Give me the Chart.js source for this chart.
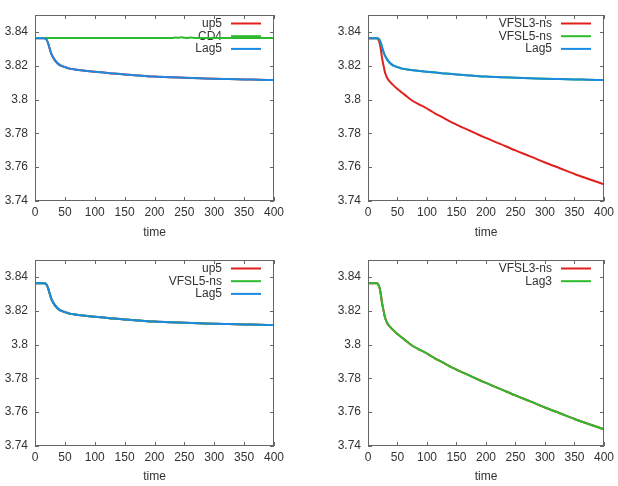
<!DOCTYPE html>
<html>
<head>
<meta charset="utf-8">
<script src="https://cdn.jsdelivr.net/npm/chart.js@4"></script>
<style>
  html, body { margin: 0; padding: 0; background: #fff; }
  .panel { position: absolute; }
</style>
</head>
<body>
<div class="panel" style="left:0;top:0"><canvas id="c1" width="309" height="243"></canvas></div>
<div class="panel" style="left:309px;top:0"><canvas id="c2" width="309" height="243"></canvas></div>
<div class="panel" style="left:0;top:245px"><canvas id="c3" width="309" height="241"></canvas></div>
<div class="panel" style="left:309px;top:245px"><canvas id="c4" width="309" height="241"></canvas></div>
<script>
// times (x) for the slowly relaxing curves (Lag5 / up5 / VFSL5-ns)
const lagTime = [0, 15, 18, 20, 22, 24, 26, 28, 31, 35, 40, 45, 50, 58, 67, 80, 95, 110, 125,
                 150, 175, 200, 225, 250, 275, 300, 325, 350, 375, 400];
const lag5 = [3.8363, 3.8363, 3.836, 3.835, 3.8333, 3.8308, 3.8285, 3.8265, 3.8245, 3.8225, 3.8208,
              3.8198, 3.8192, 3.8183, 3.8178, 3.8172, 3.8166, 3.8161, 3.8156,
              3.8148, 3.8142, 3.8136, 3.8132, 3.8129, 3.8126, 3.8123, 3.8121, 3.8119, 3.8117, 3.8115];

// CD4 stays flat, small wiggle near t = 240
const cdTime = [0, 230, 235, 240, 245, 250, 255, 260, 265, 270, 400];
const cd4 = [3.8364, 3.8364, 3.8367, 3.8365, 3.8368, 3.8365, 3.8364, 3.8367, 3.8365, 3.8364, 3.8364];

// VFSL3-ns / Lag3 (fast decay)
const vfslTime = [0, 12, 15, 17, 20, 22, 24, 27, 29, 33, 37, 42, 48, 55, 62, 70, 78, 86, 95, 105, 114,
                  125, 150, 175, 200, 225, 250, 275, 300, 325, 350, 375, 400];
const vfsl3 = [3.8363, 3.8363, 3.8362, 3.8358, 3.833, 3.829, 3.8242, 3.819, 3.8158, 3.8125, 3.8106,
               3.8088, 3.8068, 3.8048, 3.8029, 3.8006, 3.7987, 3.7972, 3.7956, 3.7936, 3.7917,
               3.7897, 3.7852, 3.7812, 3.7773, 3.7736, 3.7699, 3.7664, 3.7628, 3.7594, 3.756, 3.7529, 3.7498];

const xTicks = { min: 0, max: 400, step: 50 };
const yTicks = { min: 3.74, max: 3.85, step: 0.02 };

const RED = '#e0201c', GREEN = '#2dba2d', BLUE = '#1c8ae0';
const TEXT = '#333', FRAME = '#666';

Chart.defaults.font.family = "'Liberation Sans', Arial, sans-serif";
Chart.defaults.font.size = 12;
Chart.defaults.color = TEXT;

function pts(xs, ys) {
  return xs.map((x, i) => ({ x: x, y: ys[i] }));
}

// gnuplot-like box with inward ticks on all sides + key in top right
const framePlugin = {
  id: 'frame',
  beforeDatasetsDraw(chart) {
    const ctx = chart.ctx, a = chart.chartArea;
    ctx.save();
    ctx.font = "12px 'Liberation Sans', Arial, sans-serif";
    ctx.textAlign = 'right';
    ctx.textBaseline = 'middle';
    ctx.lineWidth = 2;
    chart.data.datasets.forEach((ds, i) => {
      const y = a.top + 8.5 + i * 12.7;
      ctx.fillStyle = TEXT;
      ctx.fillText(ds.label, a.right - 52, y);
      ctx.strokeStyle = ds.borderColor;
      ctx.beginPath();
      ctx.moveTo(a.right - 43, y);
      ctx.lineTo(a.right - 13, y);
      ctx.stroke();
    });
    ctx.restore();
  },
  afterDatasetsDraw(chart) {
    const ctx = chart.ctx, a = chart.chartArea;
    const xs = chart.scales.x, ys = chart.scales.y;
    ctx.save();
    ctx.strokeStyle = FRAME;
    ctx.lineWidth = 1;
    ctx.strokeRect(a.left + 0.5, a.top + 0.5, a.right - a.left - 1, a.bottom - a.top - 1);
    ctx.beginPath();
    xs.ticks.forEach(t => {
      const px = Math.round(xs.getPixelForValue(t.value)) + 0.5;
      ctx.moveTo(px, a.bottom); ctx.lineTo(px, a.bottom - 4);
      ctx.moveTo(px, a.top); ctx.lineTo(px, a.top + 4);
    });
    ys.ticks.forEach(t => {
      const py = Math.round(ys.getPixelForValue(t.value)) + 0.5;
      ctx.moveTo(a.left, py); ctx.lineTo(a.left + 4, py);
      ctx.moveTo(a.right, py); ctx.lineTo(a.right - 4, py);
    });
    ctx.stroke();
    ctx.restore();
  }
};

function makePanel(id, series, padLeft, padRight, xHeight, titlePad) {
  const datasets = series.map((s, i) => ({
    label: s.label,
    data: pts(s.x, s.y),
    borderColor: s.color,
    backgroundColor: s.color,
    order: series.length - i
  }));
  new Chart(document.getElementById(id), {
    type: 'line',
    data: { datasets: datasets },
    plugins: [framePlugin],
    options: {
      responsive: false,
      animation: false,
      layout: { padding: { left: padLeft, right: padRight, top: 15, bottom: 0 } },
      plugins: { legend: { display: false }, tooltip: { enabled: false } },
      elements: {
        point: { radius: 0 },
        line: { borderWidth: 2, cubicInterpolationMode: 'monotone' }
      },
      scales: {
        x: {
          type: 'linear',
          min: xTicks.min, max: xTicks.max,
          ticks: { stepSize: xTicks.step, padding: 4, maxRotation: 0 },
          grid: { display: false, drawTicks: false },
          border: { display: false },
          title: { display: true, text: 'time', padding: { top: 0, bottom: titlePad } },
          afterFit: s => { s.height = xHeight; }
        },
        y: {
          min: yTicks.min, max: yTicks.max,
          ticks: {
            stepSize: yTicks.step, includeBounds: false, padding: 7,
            callback: v => String(+v.toFixed(2))
          },
          grid: { display: false, drawTicks: false },
          border: { display: false },
          afterFit: s => { s.width = 35; }
        }
      }
    }
  });
}

makePanel('c1', [
  { label: 'up5', x: lagTime, y: lag5, color: RED },
  { label: 'CD4', x: cdTime, y: cd4, color: GREEN },
  { label: 'Lag5', x: lagTime, y: lag5, color: BLUE }
], 0, 35, 42, 3);

makePanel('c2', [
  { label: 'VFSL3-ns', x: vfslTime, y: vfsl3, color: RED },
  { label: 'VFSL5-ns', x: lagTime, y: lag5, color: GREEN },
  { label: 'Lag5', x: lagTime, y: lag5, color: BLUE }
], 24, 10, 42, 3);

makePanel('c3', [
  { label: 'up5', x: lagTime, y: lag5, color: RED },
  { label: 'VFSL5-ns', x: lagTime, y: lag5, color: GREEN },
  { label: 'Lag5', x: lagTime, y: lag5, color: BLUE }
], 0, 35, 40, 2);

makePanel('c4', [
  { label: 'VFSL3-ns', x: vfslTime, y: vfsl3, color: RED },
  { label: 'Lag3', x: vfslTime, y: vfsl3, color: GREEN }
], 24, 10, 40, 2);
</script>
</body>
</html>
